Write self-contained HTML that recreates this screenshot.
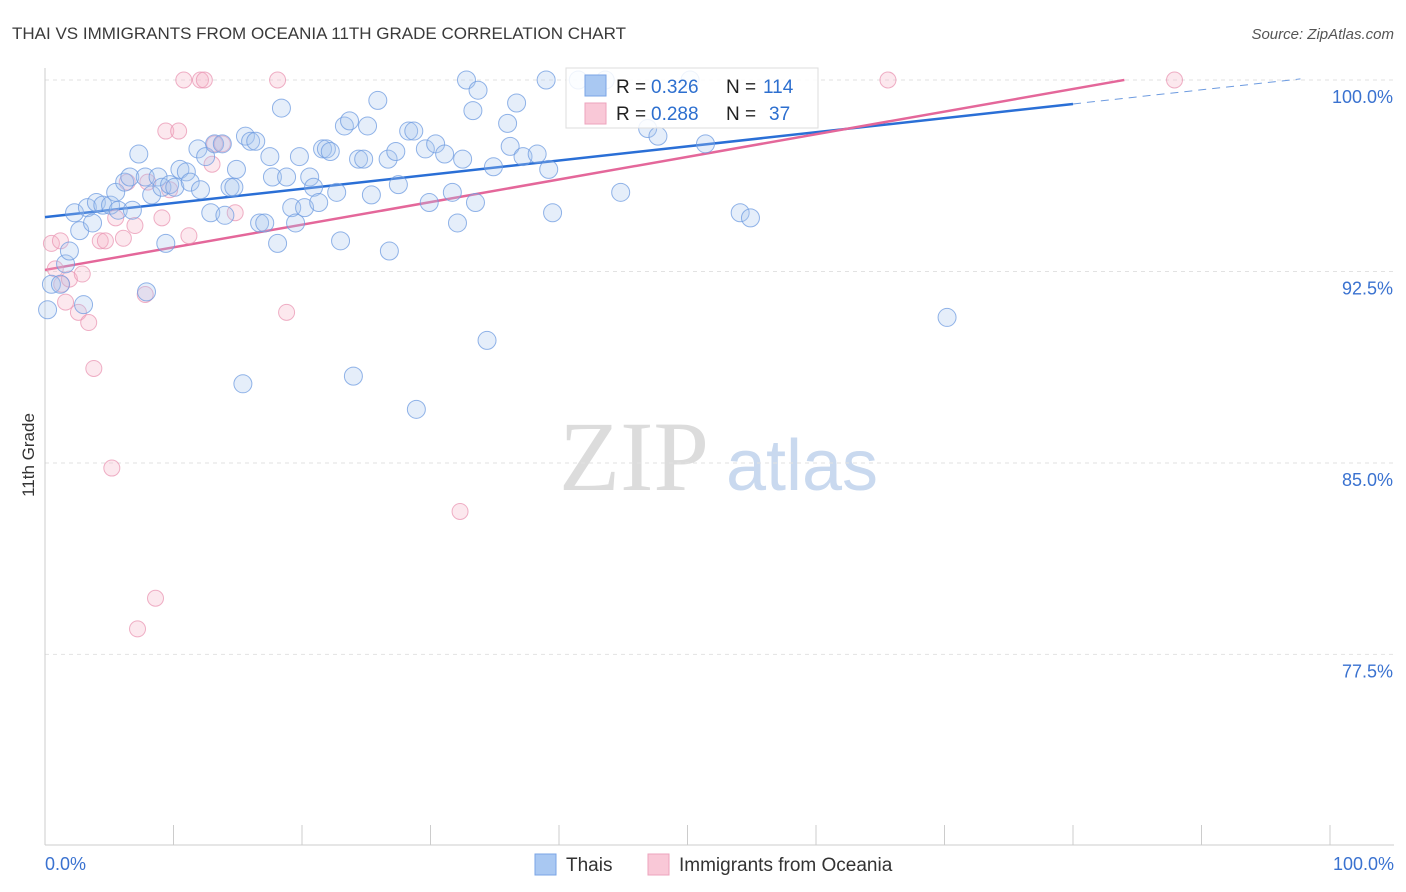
<!DOCTYPE html>
<html><head><meta charset="utf-8"><style>
body{margin:0;background:#fff;font-family:"Liberation Sans",sans-serif;}
svg{display:block}
</style></head><body>
<svg id="chart" width="1406" height="892" xmlns="http://www.w3.org/2000/svg">
<text x="12" y="39" font-size="17" fill="#3a3a3a">THAI VS IMMIGRANTS FROM OCEANIA 11TH GRADE CORRELATION CHART</text>
<text x="1394" y="39" font-size="15" fill="#555" font-style="italic" text-anchor="end">Source: ZipAtlas.com</text>
<text x="34" y="455" font-size="17" fill="#333" text-anchor="middle" transform="rotate(-90 34 455)">11th Grade</text>
<g><text x="634" y="490" font-size="100" fill="#dcdcdc" font-family="Liberation Serif,serif" text-anchor="middle">ZIP</text><text x="802" y="490" font-size="72" fill="#c9d9ef" text-anchor="middle">atlas</text></g>
<g id="grid"></g><g id="ticks"></g><g id="lines"></g><g id="pts"></g>
<g>
<rect x="566" y="68" width="252" height="60" fill="#fff" fill-opacity="0.85" stroke="#ddd"/>
<rect x="585" y="75" width="21" height="21" fill="#a9c8f2" stroke="#7aa4e6"/>
<rect x="585" y="103" width="21" height="21" fill="#f9c8d7" stroke="#eda3bc"/>
<text y="93" font-size="19" fill="#222"><tspan x="616">R =</tspan><tspan x="651" fill="#2d6fcf">0.326</tspan><tspan x="726">N =</tspan><tspan x="763" fill="#2d6fcf">114</tspan></text>
<text y="120" font-size="19" fill="#222"><tspan x="616">R =</tspan><tspan x="651" fill="#2d6fcf">0.288</tspan><tspan x="726">N =</tspan><tspan x="769" fill="#2d6fcf">37</tspan></text>
</g>
<g>
<rect x="535" y="854" width="21" height="21" fill="#a9c8f2" stroke="#7aa4e6"/>
<text x="566" y="871" font-size="19" fill="#333">Thais</text>
<rect x="648" y="854" width="21" height="21" fill="#f9c8d7" stroke="#eda3bc"/>
<text x="679" y="871" font-size="19" fill="#333">Immigrants from Oceania</text>
</g>
</svg>
<script>
const yTicks=[100,92.5,85,77.5];
const yTickLabels=["100.0%","92.5%","85.0%","77.5%"];
const xLabels=["0.0%","100.0%"];
const blueX=[0.2,0.5,1.2,1.6,1.9,2.3,2.7,3.0,3.3,3.7,4.0,4.5,5.1,5.5,5.7,6.2,6.6,6.8,7.3,7.8,7.9,8.3,8.8,9.1,9.4,9.7,10.1,10.5,11.0,11.3,11.9,12.1,12.5,12.9,13.2,13.8,14.0,14.4,14.7,14.9,15.4,15.6,16.0,16.4,16.7,17.1,17.5,17.7,18.1,18.4,18.8,19.2,19.5,19.8,20.2,20.6,20.9,21.3,21.6,21.9,22.2,22.7,23.0,23.3,23.7,24.0,24.4,24.8,25.1,25.4,25.9,26.8,26.7,27.3,27.5,28.3,28.7,28.9,29.6,29.9,30.4,31.1,31.7,32.1,32.5,32.8,33.3,33.7,33.5,34.4,34.9,36.0,36.2,36.7,37.2,38.3,39.0,39.2,39.5,41.5,44.8,46.9,47.7,51.4,54.1,54.9,70.2,43.6,50.2];
const blueY=[91.0,92.0,92.0,92.8,93.3,94.8,94.1,91.2,95.0,94.4,95.2,95.1,95.1,95.6,94.9,96.0,96.2,94.9,97.1,96.2,91.7,95.5,96.2,95.8,93.6,95.9,95.8,96.5,96.4,96.0,97.3,95.7,97.0,94.8,97.5,97.5,94.7,95.8,95.8,96.5,88.1,97.8,97.6,97.6,94.4,94.4,97.0,96.2,93.6,98.9,96.2,95.0,94.4,97.0,95.0,96.2,95.8,95.2,97.3,97.3,97.2,95.6,93.7,98.2,98.4,88.4,96.9,96.9,98.2,95.5,99.2,93.3,96.9,97.2,95.9,98.0,98.0,87.1,97.3,95.2,97.5,97.1,95.6,94.4,96.9,100,98.8,99.6,95.2,89.8,96.6,98.3,97.4,99.1,97.0,97.1,100,96.5,94.8,100,95.6,98.1,97.8,97.5,94.8,94.6,90.7,100,100];
const pinkX=[0.5,0.8,1.2,1.3,1.6,1.9,2.6,2.9,3.4,3.8,4.3,4.7,5.2,5.5,6.1,6.4,7.0,7.8,8.0,8.6,9.1,9.4,9.7,10.4,10.8,11.2,12.1,12.4,13.0,13.2,13.8,14.8,18.1,18.8,32.3,65.6,87.9,7.2];
const pinkY=[93.6,92.6,93.7,92.0,91.3,92.2,90.9,92.4,90.5,88.7,93.7,93.7,84.8,94.6,93.8,96.0,94.3,91.6,96.0,79.7,94.6,98.0,95.7,98.0,100,93.9,100,100,96.7,97.5,97.5,94.8,100,90.9,83.1,100,100,78.5];
const blueFit=[94.63,0.0554];
const pinkFit=[92.56,0.0886];
const X=v=>45+v*12.85, Y=v=>80+(100-v)*25.53;
const NS="http://www.w3.org/2000/svg";
function mk(tag,attrs,parent){const e=document.createElementNS(NS,tag);for(const k in attrs)e.setAttribute(k,attrs[k]);document.getElementById(parent).appendChild(e);return e;}
yTicks.forEach((t,i)=>{
  const g=mk('line',{x1:45,x2:1394,y1:Y(t),y2:Y(t),stroke:'#e2e2e2','stroke-dasharray':'4,4'},'grid');
  
  
  const l=mk('text',{x:1393,y:Y(t)+23,'font-size':18,fill:'#3a72d0','text-anchor':'end'},'grid');
  l.textContent=yTickLabels[i];
  
  
});
mk('line',{x1:45,x2:45,y1:68,y2:845,stroke:'#ccc'},'ticks');
mk('line',{x1:45,x2:1394,y1:845,y2:845,stroke:'#ccc'},'ticks');
for(let i=0;i<=10;i++){const t=mk('line',{x1:X(i*10),x2:X(i*10),y1:825,y2:845,stroke:'#ccc'},'ticks');}
[[0,'start',45],[100,'end',1394]].forEach((d,i)=>{const t=mk('text',{x:d[2],y:870,'font-size':18,fill:'#3a72d0','text-anchor':d[1]},'ticks');t.textContent=xLabels[i];});
function pts(xs,ys,fill,stroke,r,name){xs.forEach((x,i)=>{const c=mk('circle',{cx:X(x),cy:Y(ys[i]),r:r,fill:fill,'fill-opacity':0.3,stroke:stroke,'stroke-opacity':0.75,'stroke-width':1},'pts');});}
pts(pinkX,pinkY,'#f4b3c8','#e995b3',8,'oceania-point');
pts(blueX,blueY,'#a8c6f0','#6d9be0',9,'thais-point');
let l1=mk('line',{x1:X(0),y1:Y(blueFit[0]),x2:X(80),y2:Y(blueFit[0]+blueFit[1]*80),stroke:'#2a6fd6','stroke-width':2.5},'lines');

let l2=mk('line',{x1:X(80),y1:Y(blueFit[0]+blueFit[1]*80),x2:X(97.7),y2:Y(blueFit[0]+blueFit[1]*97.7),stroke:'#6d9be0','stroke-width':1,'stroke-dasharray':'8,6'},'lines');

let l3=mk('line',{x1:X(0),y1:Y(pinkFit[0]),x2:X(84),y2:Y(pinkFit[0]+pinkFit[1]*84),stroke:'#e4679a','stroke-width':2.5},'lines');

</script>
</body></html>
